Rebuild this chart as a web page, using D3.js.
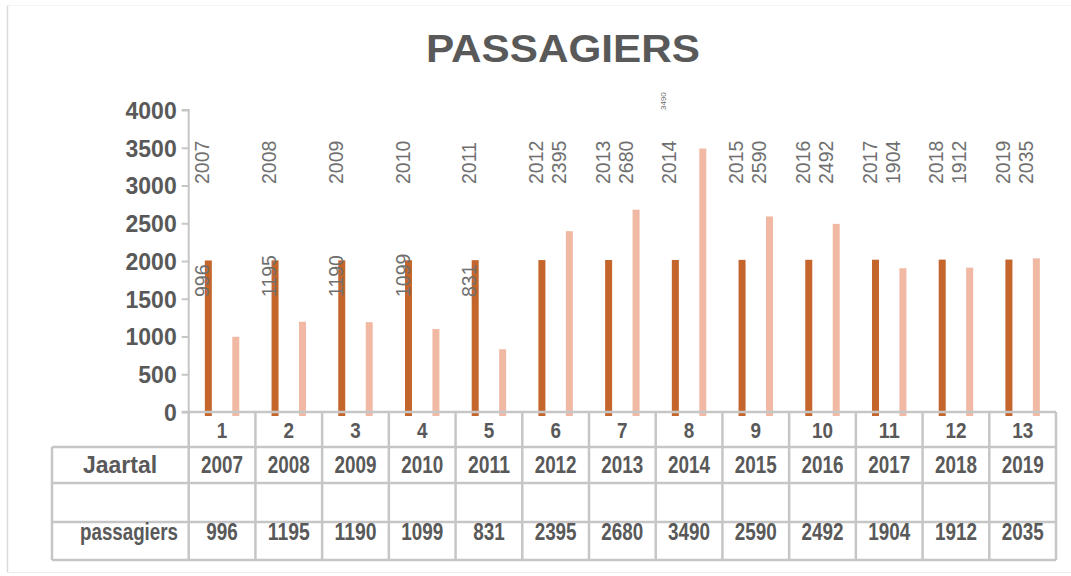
<!DOCTYPE html>
<html>
<head>
<meta charset="utf-8">
<script src="https://cdn.jsdelivr.net/npm/d3@7"></script>
<style>
  html, body { margin: 0; padding: 0; background: #fff; }
  svg { display: block; font-family: "Liberation Sans", Arial, sans-serif; }
</style>
</head>
<body>
<svg id="chart" width="1071" height="576"></svg>
<script>
// ---- data ----
const categories = [1, 2, 3, 4, 5, 6, 7, 8, 9, 10, 11, 12, 13];
const years = [2007, 2008, 2009, 2010, 2011, 2012, 2013, 2014, 2015, 2016, 2017, 2018, 2019];
const passagiers = [996, 1195, 1190, 1099, 831, 2395, 2680, 3490, 2590, 2492, 1904, 1912, 2035];
const seriesNames = ["Jaartal", "passagiers"];
const yTicks = [0, 500, 1000, 1500, 2000, 2500, 3000, 3500, 4000];
const title = "PASSAGIERS";

// ---- styles ----
const darkColor = "#C4652B";
const lightColor = "#F1B9A4";
const textColor = "#595959";
const labelColor = "#6F6F6F";
const gridColor = "#C6C6C6";

const svg = d3.select("#chart");

// faint outer frame
svg.append("line").attr("x1", 7.5).attr("x2", 7.5).attr("y1", 5).attr("y2", 572)
  .attr("stroke", "#DADADA").attr("stroke-width", 1.5);
svg.append("line").attr("x1", 7).attr("x2", 1071).attr("y1", 5.5).attr("y2", 5.5)
  .attr("stroke", "#F3F3F3").attr("stroke-width", 1);
svg.append("line").attr("x1", 7).attr("x2", 1071).attr("y1", 572.5).attr("y2", 572.5)
  .attr("stroke", "#EBEBEB").attr("stroke-width", 1);

// title
svg.append("text")
  .attr("x", 563).attr("y", 62)
  .attr("text-anchor", "middle")
  .attr("font-size", 38).attr("font-weight", "bold")
  .attr("fill", textColor)
  .attr("textLength", 274).attr("lengthAdjust", "spacingAndGlyphs")
  .text(title);

// scales
const x = d3.scaleBand().domain(categories).range([188.7, 1056]).padding(0);
const inner = d3.scalePoint().domain(seriesNames).range([0, x.bandwidth()]).padding(0.715);
const y = d3.scaleLinear().domain([0, 4000]).range([412, 110]);
const barW = 7;
const barExtra = 4;

// y axis
const yAxis = d3.axisLeft(y).tickValues(yTicks).tickSize(7).tickPadding(5).tickFormat(d3.format("d"));
const gy = svg.append("g").attr("transform", `translate(${x.range()[0]},0)`).call(yAxis);
gy.select(".domain").attr("stroke", gridColor).attr("stroke-width", 2)
  .attr("d", `M-7,${y(4000)}H0V${y(0)}`);
gy.selectAll(".tick line").attr("stroke", gridColor).attr("stroke-width", 2);
gy.selectAll(".tick text")
  .attr("fill", textColor).attr("font-size", 23).attr("font-weight", "bold")
  .attr("font-family", "Liberation Sans, Arial, sans-serif")
  .attr("dy", "0.36em");

// bars
const barsG = svg.append("g");
barsG.selectAll("rect.dark").data(categories).join("rect")
  .attr("class", "dark")
  .attr("x", (d) => x(d) + inner("Jaartal") - barW / 2)
  .attr("y", (d, i) => y(years[i]))
  .attr("width", barW)
  .attr("height", (d, i) => y(0) - y(years[i]) + barExtra)
  .attr("fill", darkColor);
barsG.selectAll("rect.light").data(categories).join("rect")
  .attr("class", "light")
  .attr("x", (d) => x(d) + inner("passagiers") - barW / 2)
  .attr("y", (d, i) => y(passagiers[i]))
  .attr("width", barW)
  .attr("height", (d, i) => y(0) - y(passagiers[i]) + barExtra)
  .attr("fill", lightColor);

// table grid
const tableLeft = 52;
const rowEdges = [412, 447, 483, 522, 560];
const tableRows = [
  { label: "Jaartal", values: years },
  { label: "", values: categories.map(() => "") },
  { label: "passagiers", values: passagiers }
];
const grid = svg.append("g").attr("stroke", gridColor).attr("stroke-width", 2.5).attr("fill", "none");
grid.append("line").attr("x1", x.range()[0] - 7).attr("x2", x.range()[1]).attr("y1", rowEdges[0]).attr("y2", rowEdges[0]);
rowEdges.slice(1).forEach((ry) => {
  grid.append("line").attr("x1", tableLeft).attr("x2", x.range()[1]).attr("y1", ry).attr("y2", ry);
});
categories.forEach((c) => {
  grid.append("line").attr("x1", x(c)).attr("x2", x(c)).attr("y1", rowEdges[0]).attr("y2", rowEdges[4]);
});
grid.append("line").attr("x1", x.range()[1]).attr("x2", x.range()[1]).attr("y1", rowEdges[0]).attr("y2", rowEdges[4]);
grid.append("line").attr("x1", tableLeft).attr("x2", tableLeft).attr("y1", rowEdges[1]).attr("y2", rowEdges[4]);

// condensed digit width for table text
const digitW = 10.5;

// category numbers
svg.append("g").selectAll("text").data(categories).join("text")
  .attr("x", (d) => x(d) + x.bandwidth() / 2)
  .attr("y", 438)
  .attr("text-anchor", "middle")
  .attr("font-size", 22).attr("font-weight", "bold").attr("fill", textColor)
  .attr("textLength", (d) => String(d).length * digitW)
  .attr("lengthAdjust", "spacingAndGlyphs")
  .text((d) => d);

// table rows
const rowBaselines = [473, 510, 540];
svg.append("text")
  .attr("x", 120).attr("y", rowBaselines[0])
  .attr("text-anchor", "middle")
  .attr("font-size", 23).attr("font-weight", "bold").attr("fill", textColor)
  .text(tableRows[0].label);
svg.append("text")
  .attr("x", 129).attr("y", rowBaselines[2])
  .attr("text-anchor", "middle")
  .attr("font-size", 23).attr("font-weight", "bold").attr("fill", textColor)
  .attr("textLength", 98).attr("lengthAdjust", "spacingAndGlyphs")
  .text(tableRows[2].label);
tableRows.forEach((row, r) => {
  svg.append("g").selectAll("text").data(row.values.filter((v) => v !== "")).join("text")
    .attr("x", (d, i) => x(categories[i]) + x.bandwidth() / 2)
    .attr("y", rowBaselines[r])
    .attr("text-anchor", "middle")
    .attr("font-size", 23).attr("font-weight", "bold").attr("fill", textColor)
    .attr("textLength", (d) => String(d).length * digitW)
    .attr("lengthAdjust", "spacingAndGlyphs")
    .text((d) => d);
});

// rotated data labels
const labelsG = svg.append("g").attr("fill", labelColor);
const maxP = d3.max(passagiers);
categories.forEach((c, i) => {
  const lx = x(c) + inner("Jaartal") - 6;
  labelsG.append("text")
    .attr("transform", `translate(${lx},184) rotate(-90)`)
    .attr("dy", "0.36em")
    .attr("font-size", 19.5)
    .text(years[i]);
  let px, py, fs;
  if (i < 5) { px = lx; py = 297; fs = 19.5; }
  else if (passagiers[i] === maxP) { px = lx - 6; py = 110; fs = 8; }
  else { px = lx + 23; py = 184; fs = 19.5; }
  labelsG.append("text")
    .attr("transform", `translate(${px},${py}) rotate(-90)`)
    .attr("dy", "0.36em")
    .attr("font-size", fs)
    .text(passagiers[i]);
});
</script>
</body>
</html>
